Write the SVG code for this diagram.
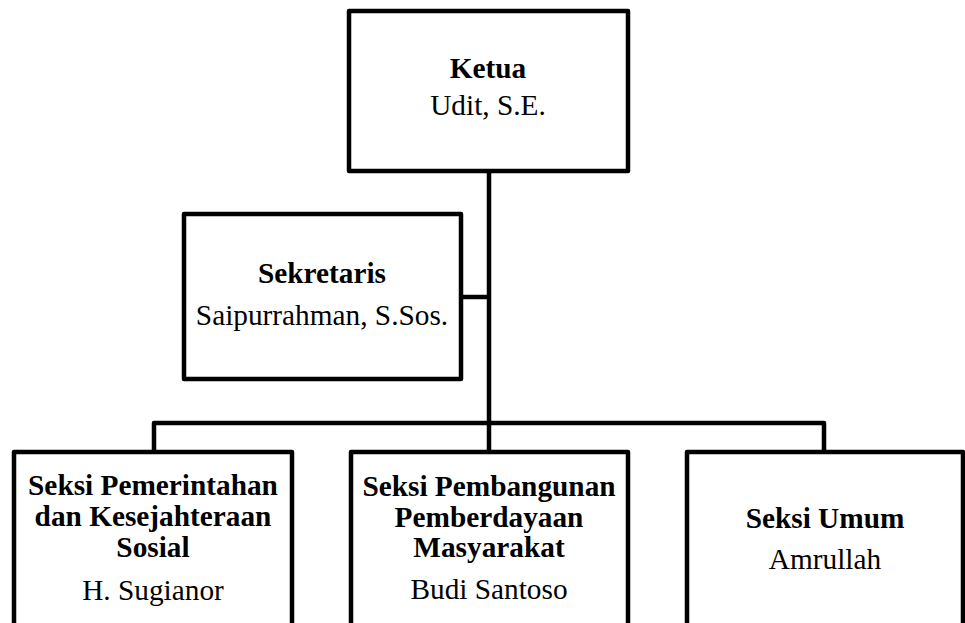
<svg xmlns="http://www.w3.org/2000/svg" width="965" height="623" viewBox="0 0 965 623">
<style>
.box{fill:#fff;stroke:#000;stroke-width:4.5;stroke-linejoin:round}
.ln{fill:none;stroke:#000;stroke-width:4.5;stroke-linejoin:round}
text{font-family:"Liberation Serif","Times New Roman",serif;font-size:29.3px;text-anchor:middle;fill:#000}
.b{font-weight:bold}
</style>
<rect width="965" height="623" fill="#fff"/>
<g id="connectors">
<line class="ln" x1="489" y1="171" x2="489" y2="423"/>
<line class="ln" x1="461" y1="297" x2="489" y2="297"/>
<path class="ln" d="M154 452 V423 H824 V452"/>
<line class="ln" x1="489" y1="423" x2="489" y2="452"/>
</g>
<g id="ketua">
<rect class="box" x="349" y="11" width="279" height="160"/>
<text class="b" x="488" y="78">Ketua</text>
<text x="488" y="115">Udit, S.E.</text>
</g>
<g id="sekretaris">
<rect class="box" x="184" y="214" width="277" height="165"/>
<text class="b" x="322" y="283">Sekretaris</text>
<text x="322" y="325">Saipurrahman, S.Sos.</text>
</g>
<g id="seksi-pemerintahan">
<rect class="box" x="14" y="452" width="278" height="200"/>
<text class="b" x="153" y="495">Seksi Pemerintahan</text>
<text class="b" x="153" y="526">dan Kesejahteraan</text>
<text class="b" x="153" y="557">Sosial</text>
<text x="153" y="600">H. Sugianor</text>
</g>
<g id="seksi-pembangunan">
<rect class="box" x="351" y="452" width="277" height="200"/>
<text class="b" x="489" y="496">Seksi Pembangunan</text>
<text class="b" x="489" y="527">Pemberdayaan</text>
<text class="b" x="489" y="557">Masyarakat</text>
<text x="489" y="599">Budi Santoso</text>
</g>
<g id="seksi-umum">
<rect class="box" x="687" y="452" width="276" height="200"/>
<text class="b" x="825" y="528">Seksi Umum</text>
<text x="825" y="569">Amrullah</text>
</g>
</svg>
